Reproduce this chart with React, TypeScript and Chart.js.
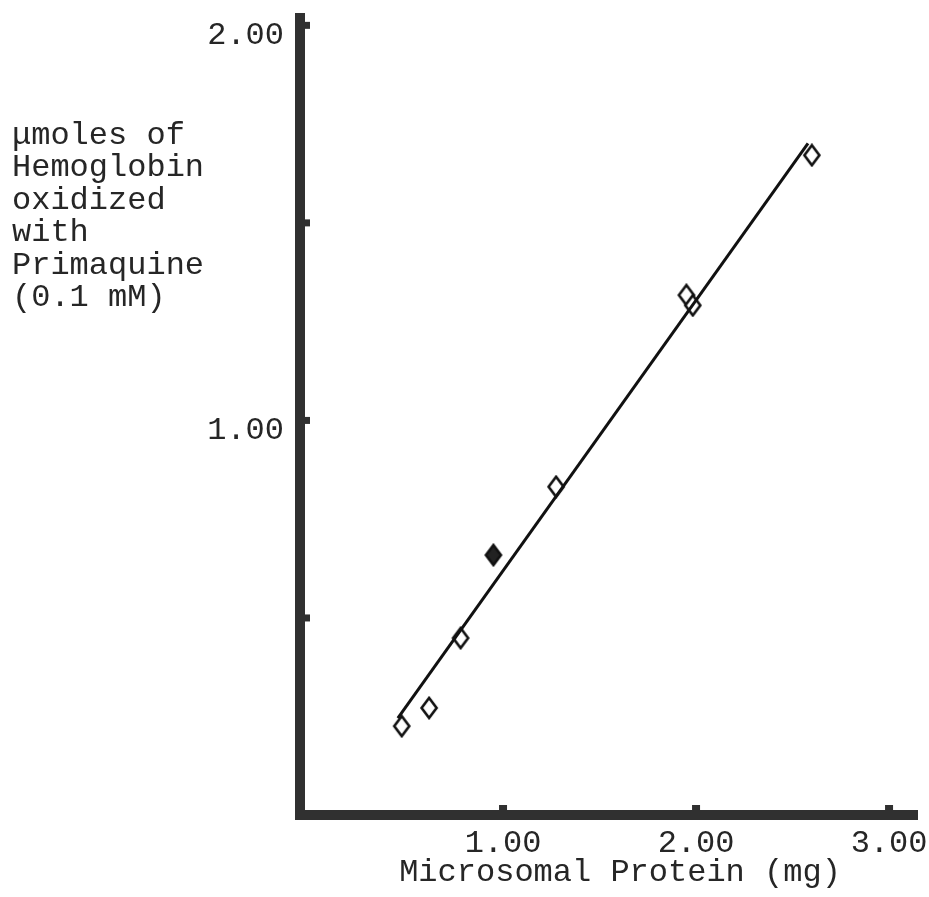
import React, { useEffect, useRef } from 'react';
import { Chart, registerables } from 'chart.js';

Chart.register(...registerables);

// ---- data ----
const proteinMg = [0.475, 0.617, 0.78, 0.95, 1.275, 1.95, 1.983, 2.6];
const hbOxidized = [0.225, 0.271, 0.448, 0.658, 0.831, 1.316, 1.29, 1.67];
const pointFilled = [false, false, false, true, false, false, false, false];
const fitProtein = [0.455, 2.58];
const fitHb = [0.245, 1.7];
const xTickValues = [1, 2, 3];
const xTickLabels = ['1.00', '2.00', '3.00'];
const yTickValues = [0.5, 1, 1.5, 2];
const yTickLabels = ['', '1.00', '', '2.00'];
const yTitleLines = ['μmoles of', 'Hemoglobin', 'oxidized', 'with', 'Primaquine', '(0.1 mM)'];
const xTitle = 'Microsomal Protein (mg)';

const FONT = '"Liberation Mono", "Courier New", monospace';
const INK = '#262626';
const AXIS = '#303030';

function makeDiamond(filled: boolean): HTMLCanvasElement {
  const c = document.createElement('canvas');
  c.width = 20;
  c.height = 24;
  const g = c.getContext('2d')!;
  g.beginPath();
  g.moveTo(10, 2);
  g.lineTo(17.5, 12);
  g.lineTo(10, 22);
  g.lineTo(2.5, 12);
  g.closePath();
  g.fillStyle = filled ? '#222' : '#fff';
  g.fill();
  g.lineWidth = 2.6;
  g.strokeStyle = '#111';
  g.stroke();
  return c;
}

const axesPlugin = {
  id: 'typedAxes',
  afterDraw(chart: any) {
    const { ctx, chartArea, scales } = chart;
    const xs = scales.x;
    const ys = scales.y;
    const x0 = chartArea.left;
    const yb = chartArea.bottom;
    ctx.save();
    ctx.fillStyle = AXIS;
    ctx.fillRect(x0 - 5, chartArea.top, 10, yb - chartArea.top + 5);
    ctx.fillRect(x0 - 5, yb - 5, chartArea.right - x0 + 5, 10);
    yTickValues.forEach((v) => {
      const py = ys.getPixelForValue(v);
      ctx.fillRect(x0 + 5, py - 3, 5, 7);
    });
    xTickValues.forEach((v) => {
      const px = xs.getPixelForValue(v);
      ctx.fillRect(px - 4, yb - 10, 8, 5);
    });
    ctx.fillStyle = INK;
    ctx.font = '32px ' + FONT;
    ctx.textAlign = 'left';
    ctx.textBaseline = 'alphabetic';
    yTitleLines.forEach((t, i) => ctx.fillText(t, 12, 144 + i * 32.4));
    ctx.textAlign = 'center';
    ctx.textBaseline = 'middle';
    ctx.fillText(xTitle, chartArea.left + 320, 873);
    ctx.restore();
  },
};

export default function App() {
  const ref = useRef<HTMLCanvasElement | null>(null);

  useEffect(() => {
    const prevMargin = document.body.style.margin;
    document.body.style.margin = '0';
    const canvas = ref.current!;
    const open = makeDiamond(false);
    const full = makeDiamond(true);
    const chart = new Chart(canvas, {
      type: 'scatter',
      data: {
        datasets: [
          {
            type: 'line',
            label: 'fit',
            data: fitProtein.map((x, i) => ({ x, y: fitHb[i] })),
            borderColor: '#111',
            borderWidth: 3,
            pointRadius: 0,
            fill: false,
          } as any,
          {
            label: 'points',
            data: proteinMg.map((x, i) => ({ x, y: hbOxidized[i] })),
            pointStyle: pointFilled.map((f) => (f ? full : open)) as any,
            pointRadius: 10,
            showLine: false,
          },
        ],
      },
      options: {
        animation: false,
        responsive: false,
        devicePixelRatio: 1,
        layout: { padding: { top: 13, right: 11, left: 0, bottom: 0 } },
        plugins: { legend: { display: false }, tooltip: { enabled: false } },
        scales: {
          x: {
            type: 'linear',
            min: -0.052,
            max: 3.15,
            grid: { display: false, drawTicks: false },
            border: { display: false },
            afterBuildTicks: (s: any) => {
              s.ticks = xTickValues.map((v) => ({ value: v }));
            },
            afterFit: (s: any) => {
              s.height = 82;
              s.paddingLeft = 0;
              s.paddingRight = 0;
            },
            ticks: {
              padding: 9,
              color: INK,
              font: { family: FONT, size: 32 },
              maxRotation: 0,
              autoSkip: false,
              callback: (v: any) => {
                const i = xTickValues.indexOf(Number(v));
                return i >= 0 ? xTickLabels[i] : '';
              },
            },
          },
          y: {
            type: 'linear',
            min: 0,
            max: 2.03,
            grid: { display: false, drawTicks: false },
            border: { display: false },
            afterBuildTicks: (s: any) => {
              s.ticks = yTickValues.map((v) => ({ value: v }));
            },
            afterFit: (s: any) => {
              s.width = 300;
              s.paddingTop = 0;
              s.paddingBottom = 0;
            },
            ticks: {
              padding: 16,
              labelOffset: 11,
              color: INK,
              font: { family: FONT, size: 32 },
              autoSkip: false,
              callback: (v: any) => {
                const i = yTickValues.indexOf(Number(v));
                return i >= 0 ? yTickLabels[i] : '';
              },
            },
          },
        },
      },
      plugins: [axesPlugin],
    });
    return () => {
      chart.destroy();
      document.body.style.margin = prevMargin;
    };
  }, []);

  return (
    <div style={{ width: 929, height: 897, background: '#fff' }}>
      <canvas ref={ref} width={929} height={897} style={{ display: 'block' }} />
    </div>
  );
}
